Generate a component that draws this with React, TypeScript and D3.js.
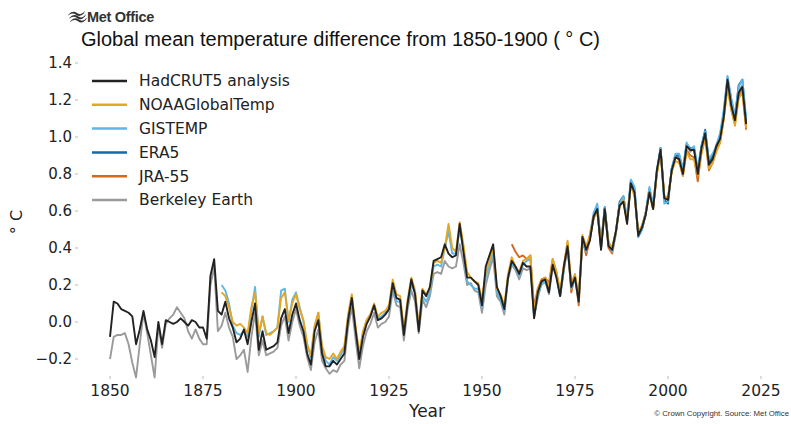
import React from 'react';
import * as d3 from 'd3';

// Global mean temperature difference from 1850-1900 (degC)
const hadcrutStart = 1850;
const hadcrut5 = [
  -0.08, 0.11, 0.10, 0.07, 0.06, 0.05, 0.03, -0.12, -0.04, 0.06,
  -0.04, -0.10, -0.19, 0.00, -0.12, 0.01, 0.00, -0.01, 0.00, 0.02,
  0.00, -0.02, 0.01, 0.00, -0.03, -0.03, -0.09, 0.25, 0.34, 0.06,
  0.04, 0.11, 0.02, -0.03, -0.11, -0.09, -0.04, -0.12, 0.00, 0.10,
  -0.15, -0.05, -0.15, -0.14, -0.13, -0.11, 0.02, 0.07, -0.06, 0.04,
  0.10, 0.01, -0.05, -0.17, -0.23, -0.05, 0.01, -0.17, -0.24, -0.24,
  -0.21, -0.23, -0.20, -0.17, 0.01, 0.13, -0.04, -0.20, -0.08, -0.01,
  0.03, 0.09, 0.01, 0.02, 0.04, 0.07, 0.21, 0.13, 0.12, -0.07,
  0.10, 0.23, 0.15, -0.05, 0.17, 0.14, 0.19, 0.33, 0.34, 0.35,
  0.42, 0.37, 0.35, 0.36, 0.53, 0.38, 0.24, 0.24, 0.22, 0.20,
  0.09, 0.30, 0.36, 0.42, 0.19, 0.14, 0.07, 0.24, 0.33, 0.30,
  0.26, 0.32, 0.30, 0.30, 0.02, 0.16, 0.22, 0.23, 0.16, 0.31,
  0.24, 0.14, 0.30, 0.41, 0.19, 0.24, 0.11, 0.46, 0.39, 0.44,
  0.57, 0.61, 0.39, 0.61, 0.41, 0.39, 0.49, 0.63, 0.65, 0.53,
  0.75, 0.70, 0.47, 0.51, 0.58, 0.70, 0.61, 0.82, 0.93, 0.67,
  0.66, 0.82, 0.89, 0.88, 0.80, 0.95, 0.93, 0.93, 0.80, 0.94,
  1.02, 0.85, 0.88, 0.95, 0.99, 1.11, 1.31, 1.17, 1.09, 1.24,
  1.27, 1.07,
];

const noaaStart = 1880;
const noaa = [
  0.16, 0.14, 0.08, 0.00, -0.02, -0.01, -0.03, -0.06, 0.08, 0.16,
  -0.06, 0.03, -0.06, -0.07, -0.05, -0.03, 0.13, 0.16, 0.01, 0.10,
  0.15, 0.07, 0.01, -0.12, -0.18, -0.02, 0.05, -0.13, -0.19, -0.20,
  -0.17, -0.20, -0.16, -0.13, 0.04, 0.15, -0.02, -0.17, -0.05, 0.01,
  0.04, 0.10, 0.03, 0.05, 0.06, 0.09, 0.23, 0.15, 0.14, -0.04,
  0.12, 0.24, 0.17, -0.02, 0.18, 0.15, 0.18, 0.32, 0.33, 0.32,
  0.40, 0.53, 0.40, 0.38, 0.54, 0.42, 0.27, 0.24, 0.22, 0.21,
  0.12, 0.27, 0.33, 0.40, 0.18, 0.15, 0.09, 0.26, 0.35, 0.30,
  0.27, 0.33, 0.34, 0.36, 0.05, 0.18, 0.22, 0.24, 0.19, 0.34,
  0.27, 0.17, 0.30, 0.44, 0.21, 0.26, 0.14, 0.47, 0.41, 0.47,
  0.57, 0.59, 0.43, 0.60, 0.43, 0.40, 0.49, 0.62, 0.66, 0.55,
  0.74, 0.68, 0.49, 0.52, 0.58, 0.70, 0.61, 0.80, 0.91, 0.68,
  0.67, 0.81, 0.87, 0.86, 0.79, 0.92, 0.88, 0.88, 0.79, 0.91,
  0.99, 0.83, 0.86, 0.92, 0.97, 1.10, 1.26, 1.15, 1.06, 1.21,
  1.24, 1.05,
];

const gistempStart = 1880;
const gistemp = [
  0.20, 0.17, 0.10, -0.02, -0.06, -0.07, -0.05, -0.08, 0.06, 0.19,
  -0.08, 0.03, -0.07, -0.06, -0.05, -0.03, 0.17, 0.18, 0.00, 0.12,
  0.16, 0.08, 0.00, -0.12, -0.19, -0.03, 0.05, -0.14, -0.21, -0.23,
  -0.19, -0.21, -0.18, -0.14, 0.03, 0.14, -0.04, -0.19, -0.06, 0.01,
  0.04, 0.09, 0.02, 0.03, 0.05, 0.06, 0.21, 0.11, 0.11, -0.05,
  0.09, 0.20, 0.16, -0.03, 0.14, 0.11, 0.16, 0.30, 0.31, 0.30,
  0.40, 0.49, 0.37, 0.37, 0.50, 0.40, 0.22, 0.20, 0.18, 0.18,
  0.08, 0.24, 0.31, 0.38, 0.16, 0.12, 0.06, 0.25, 0.32, 0.29,
  0.25, 0.31, 0.33, 0.34, 0.03, 0.15, 0.20, 0.22, 0.17, 0.32,
  0.26, 0.14, 0.28, 0.42, 0.18, 0.23, 0.12, 0.44, 0.38, 0.47,
  0.59, 0.64, 0.41, 0.62, 0.42, 0.38, 0.48, 0.64, 0.68, 0.56,
  0.77, 0.73, 0.47, 0.50, 0.59, 0.73, 0.64, 0.82, 0.94, 0.64,
  0.65, 0.83, 0.91, 0.91, 0.83, 0.97, 0.93, 0.95, 0.83, 0.95,
  1.03, 0.88, 0.91, 0.95, 1.02, 1.15, 1.33, 1.21, 1.12, 1.27,
  1.31, 1.10,
];

const era5Start = 1979;
const era5 = [
  0.46, 0.57, 0.62, 0.42, 0.62, 0.43, 0.40, 0.49, 0.65, 0.68,
  0.55, 0.76, 0.72, 0.46, 0.50, 0.58, 0.72, 0.62, 0.81, 0.94,
  0.66, 0.64, 0.83, 0.90, 0.90, 0.82, 0.96, 0.94, 0.94, 0.81,
  0.95, 1.04, 0.86, 0.90, 0.95, 1.00, 1.13, 1.32, 1.20, 1.11,
  1.28, 1.31, 1.08,
];

const jra55Start = 1958;
const jra55 = [
  0.42, 0.38, 0.35, 0.36, 0.34, 0.36, 0.08, 0.18, 0.23, 0.24,
  0.21, 0.34, 0.27, 0.15, 0.30, 0.43, 0.16, 0.25, 0.09, 0.45,
  0.36, 0.45, 0.56, 0.60, 0.40, 0.62, 0.40, 0.37, 0.48, 0.64,
  0.66, 0.55, 0.75, 0.69, 0.47, 0.51, 0.59, 0.71, 0.62, 0.80,
  0.94, 0.68, 0.67, 0.82, 0.89, 0.88, 0.79, 0.93, 0.90, 0.89,
  0.76, 0.92, 1.00, 0.82, 0.86, 0.93, 0.97, 1.10, 1.29, 1.15,
  1.07, 1.22, 1.25, 1.04,
];

const berkeleyStart = 1850;
const berkeley = [
  -0.20, -0.08, -0.07, -0.07, -0.06, -0.12, -0.22, -0.30, -0.12, 0.05,
  -0.06, -0.18, -0.30, -0.02, -0.14, -0.01, 0.02, 0.04, 0.08, 0.05,
  0.02, -0.05, -0.09, -0.04, -0.09, -0.12, -0.12, 0.20, 0.30, -0.05,
  -0.02, 0.05, -0.03, -0.08, -0.20, -0.18, -0.15, -0.27, -0.08, 0.05,
  -0.18, -0.10, -0.18, -0.17, -0.16, -0.14, -0.02, 0.03, -0.10, 0.00,
  0.07, -0.02, -0.08, -0.19, -0.26, -0.11, -0.04, -0.21, -0.25, -0.28,
  -0.26, -0.27, -0.23, -0.21, -0.03, 0.08, -0.09, -0.25, -0.13, -0.05,
  -0.01, 0.05, -0.03, -0.01, 0.00, 0.03, 0.17, 0.09, 0.08, -0.10,
  0.07, 0.17, 0.11, -0.06, 0.12, 0.08, 0.14, 0.26, 0.27, 0.26,
  0.33, 0.30, 0.29, 0.30, 0.42, 0.32, 0.20, 0.21, 0.17, 0.16,
  0.05, 0.20, 0.28, 0.35, 0.14, 0.11, 0.04, 0.23, 0.31, 0.28,
  0.23, 0.29, 0.28, 0.29, 0.03, 0.13, 0.21, 0.22, 0.15, 0.30,
  0.25, 0.14, 0.28, 0.40, 0.18, 0.24, 0.12, 0.44, 0.38, 0.45,
  0.56, 0.61, 0.40, 0.60, 0.42, 0.40, 0.49, 0.63, 0.66, 0.54,
  0.75, 0.70, 0.48, 0.52, 0.59, 0.71, 0.61, 0.81, 0.94, 0.68,
  0.67, 0.82, 0.90, 0.89, 0.81, 0.96, 0.92, 0.94, 0.81, 0.95,
  1.03, 0.86, 0.89, 0.96, 1.01, 1.12, 1.29, 1.18, 1.10, 1.25,
  1.28, 1.08,
];

const xTicks = [1850, 1875, 1900, 1925, 1950, 1975, 2000, 2025];
const yTicks = [-0.2, 0.0, 0.2, 0.4, 0.6, 0.8, 1.0, 1.2, 1.4];

type Series = { name: string; color: string; start: number; values: number[] };

// legend order
const series: Series[] = [
  { name: 'HadCRUT5 analysis', color: '#222222', start: hadcrutStart, values: hadcrut5 },
  { name: 'NOAAGlobalTemp', color: '#E6A623', start: noaaStart, values: noaa },
  { name: 'GISTEMP', color: '#5DB7E8', start: gistempStart, values: gistemp },
  { name: 'ERA5', color: '#1769AA', start: era5Start, values: era5 },
  { name: 'JRA-55', color: '#D2691E', start: jra55Start, values: jra55 },
  { name: 'Berkeley Earth', color: '#9A9A9A', start: berkeleyStart, values: berkeley },
];
// draw order: grey at the back, HadCRUT5 on top
const drawOrder = [5, 4, 3, 2, 1, 0];

const W = 791, H = 424;
const FONT = '"DejaVu Sans", sans-serif';

export default function App() {
  // 1850 -> 110px, 2025 -> 761px ; 0.0 -> 322px, 1.4 -> 63px
  const x = d3.scaleLinear().domain([1850, 2025]).range([110, 761]);
  const y = d3.scaleLinear().domain([0, 1.4]).range([322, 63]);

  const line = d3.line<[number, number]>()
    .x(d => x(d[0]))
    .y(d => y(d[1]));

  const pts = (s: Series): [number, number][] => s.values.map((v, i) => [s.start + i, v]);

  return (
    <svg width={W} height={H} style={{ position: 'absolute', left: 0, top: 0, background: '#fff' }}>
      {/* Met Office mark */}
      <g transform="translate(68,11)" fill="#333">
        {[0, 3.3, 6.6].map((o, i) => (
          <path key={i} d={`M${1 + o * 0.3},${o + 3} q4,-4 8,-1 q4,3 8,-2 l-1,2.2 q-4,4.5 -8,1.5 q-4,-3 -8,1 z`} />
        ))}
      </g>
      <text x={87} y={22} fontFamily='"Liberation Sans", Arial, sans-serif' fontWeight="bold" fontSize={14.5} fill="#333" letterSpacing={-0.3}>Met Office</text>

      <text x={81} y={46} fontFamily='"Liberation Sans", Arial, sans-serif' fontSize={20} fill="#111">
        Global mean temperature difference from 1850-1900 ( ° C)
      </text>

      {/* y axis */}
      <g fontFamily={FONT} fontSize={15} fill="#222">
        {yTicks.map(t => (
          <g key={t} transform={`translate(0,${y(t)})`}>
            <line x1={75} x2={78} stroke="#bbb" strokeWidth={1} />
            <text x={72} dy="0.35em" textAnchor="end">{t < 0 ? '\u2212' + d3.format('.1f')(-t) : d3.format('.1f')(t)}</text>
          </g>
        ))}
      </g>
      <text transform={`translate(22,222) rotate(-90)`} textAnchor="middle" fontFamily={FONT} fontSize={16} fill="#222">° C</text>

      {/* x axis */}
      <g fontFamily={FONT} fontSize={15.5} fill="#222">
        {xTicks.map(t => (
          <g key={t} transform={`translate(${x(t)},0)`}>
            <line y1={376} y2={379} stroke="#bbb" strokeWidth={1} />
            <text y={396} textAnchor="middle">{t}</text>
          </g>
        ))}
      </g>
      <text x={427} y={417} textAnchor="middle" fontFamily={FONT} fontSize={17} fill="#222">Year</text>

      {/* series */}
      <g fill="none" strokeWidth={1.9} strokeLinejoin="round">
        {drawOrder.map(i => (
          <path key={series[i].name} d={line(pts(series[i])) || ''} stroke={series[i].color} />
        ))}
      </g>

      {/* legend */}
      <g fontFamily={FONT} fontSize={15.5} fill="#222">
        {series.map((s, i) => (
          <g key={s.name} transform={`translate(0,${81 + i * 23.8})`}>
            <line x1={92} x2={127} stroke={s.color} strokeWidth={2.5} />
            <text x={139} dy="0.35em">{s.name}</text>
          </g>
        ))}
      </g>

      <text x={789} y={416} textAnchor="end" fontFamily='"Liberation Sans", Arial, sans-serif' fontSize={7.8} fill="#333">
        © Crown Copyright. Source: Met Office
      </text>
    </svg>
  );
}
